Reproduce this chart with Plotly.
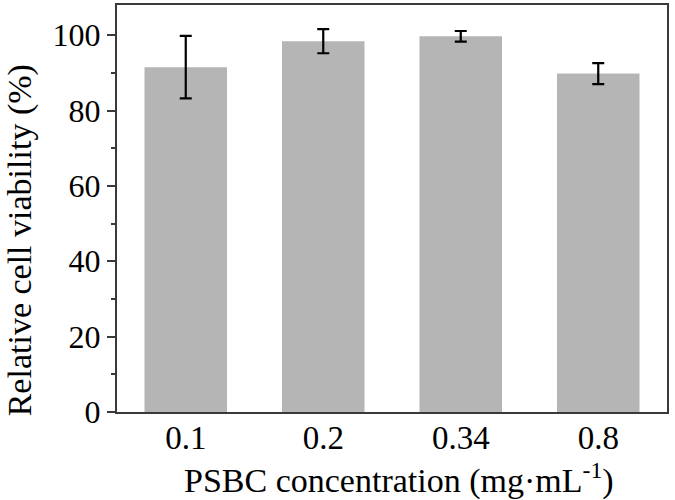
import plotly.graph_objects as go

categories = ["0.1", "0.2", "0.34", "0.8"]
viability = [91.5, 98.4, 99.7, 89.8]
errors = [8.3, 3.2, 1.4, 2.8]
y_ticks = [0, 20, 40, 60, 80, 100]

font_family = "Liberation Serif, Times New Roman, serif"
axis_color = "#3a3a3a"

fig = go.Figure()
fig.add_trace(go.Bar(
    x=categories,
    y=viability,
    marker=dict(color="#b5b5b5", line=dict(width=0)),
    error_y=dict(type="data", array=errors, visible=True,
                 color="black", thickness=2.2, width=6),
))

fig.update_layout(
    width=675, height=500,
    margin=dict(l=117, r=8, t=3, b=88),
    paper_bgcolor="white", plot_bgcolor="white",
    bargap=0.4,
    showlegend=False,
    font=dict(family=font_family, color="black"),
)

fig.update_xaxes(
    showline=True, linecolor=axis_color, linewidth=2, mirror=True,
    ticks="", tickfont=dict(size=33, family=font_family, color="black"),
    ticklabelstandoff=-5,
    showgrid=False,
)

fig.update_yaxes(
    range=[0, 108],
    tickvals=y_ticks,
    showline=True, linecolor=axis_color, linewidth=2, mirror=True,
    ticks="outside", ticklen=8, tickwidth=2, tickcolor=axis_color,
    minor=dict(dtick=10, ticks="outside", ticklen=4, tickwidth=2, tickcolor=axis_color),
    tickfont=dict(size=32, family=font_family, color="black"),
    showgrid=False, zeroline=False,
)

fig.add_annotation(
    text="PSBC concentration (mg·mL<sup>-1</sup>)",
    xref="paper", yref="paper",
    x=0.512, y=-0.164,
    xanchor="center", yanchor="middle",
    showarrow=False,
    font=dict(size=34, family=font_family, color="black"),
)

fig.add_annotation(
    text="Relative cell viability (%)",
    xref="paper", yref="paper",
    x=-0.177, y=0.421,
    xanchor="center", yanchor="middle",
    textangle=-90, showarrow=False, borderpad=0,
    font=dict(size=34, family=font_family, color="black"),
)

fig.write_html("out.html", config={"displayModeBar": False},
               post_script="document.body.style.margin='0';")
